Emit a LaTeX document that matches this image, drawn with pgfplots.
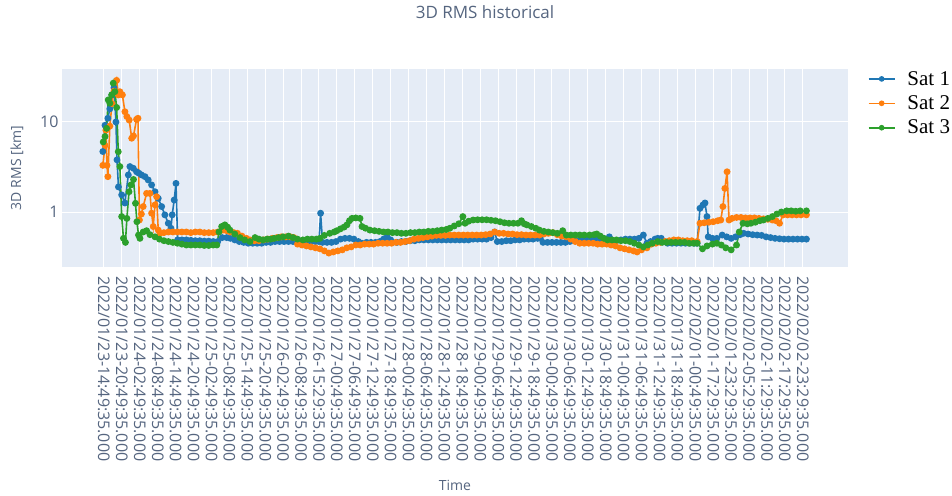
\documentclass[border=0pt]{standalone}
\usepackage{pgfplots}
\pgfplotsset{compat=1.18}
\usepackage{fontspec}
\setmainfont{Open Sans}
\newfontfamily\legendfont{Liberation Serif}

\definecolor{satA}{HTML}{1F77B4}
\definecolor{satB}{HTML}{FF7F0E}
\definecolor{satC}{HTML}{2CA02C}
\definecolor{plotbg}{HTML}{E5ECF6}
\definecolor{txt}{HTML}{2A3F5F}
\colorlet{ticktxt}{txt!80!white}

\begin{document}
\begin{tikzpicture}[x=1pt,y=1pt]
\useasboundingbox (0,0) rectangle (952,-495);

\node[font=\fontsize{17}{20}\selectfont, text=ticktxt] at (485,-12) {3D RMS historical};
\node[font=\fontsize{14}{16}\selectfont, text=ticktxt, rotate=90] at (17,-168) {3D RMS [km]};
\node[font=\fontsize{14}{16}\selectfont, text=ticktxt] at (455,-485) {Time};

\begin{axis}[
  at={(62pt,-267pt)}, anchor=south west,
  width=786pt, height=198pt, scale only axis,
  xmin=-2.34, xmax=41.52,
  ymode=log, ymin=0.245, ymax=38.8,
  axis background/.style={fill=plotbg},
  axis line style={draw=none},
  tick style={draw=none},
  grid=major,
  major grid style={white, line width=1pt},
  xtick={0,...,39},
  xticklabels={
    2022/01/23-14:49:35.000, 2022/01/23-20:49:35.000, 2022/01/24-02:49:35.000,
    2022/01/24-08:49:35.000, 2022/01/24-14:49:35.000, 2022/01/24-20:49:35.000,
    2022/01/25-02:49:35.000, 2022/01/25-08:49:35.000, 2022/01/25-14:49:35.000,
    2022/01/25-20:49:35.000, 2022/01/26-02:49:35.000, 2022/01/26-08:49:35.000,
    2022/01/26-15:29:35.000, 2022/01/27-00:49:35.000, 2022/01/27-06:49:35.000,
    2022/01/27-12:49:35.000, 2022/01/27-18:49:35.000, 2022/01/28-00:49:35.000,
    2022/01/28-06:49:35.000, 2022/01/28-12:49:35.000, 2022/01/28-18:49:35.000,
    2022/01/29-00:49:35.000, 2022/01/29-06:49:35.000, 2022/01/29-12:49:35.000,
    2022/01/29-18:49:35.000, 2022/01/30-00:49:35.000, 2022/01/30-06:49:35.000,
    2022/01/30-12:49:35.000, 2022/01/30-18:49:35.000, 2022/01/31-00:49:35.000,
    2022/01/31-06:49:35.000, 2022/01/31-12:49:35.000, 2022/01/31-18:49:35.000,
    2022/02/01-00:49:35.000, 2022/02/01-17:29:35.000, 2022/02/01-23:29:35.000,
    2022/02/02-05:29:35.000, 2022/02/02-11:29:35.000, 2022/02/02-17:29:35.000,
    2022/02/02-23:29:35.000},
  xticklabel shift=7pt,
  xticklabel style={rotate=-90, anchor=west, text=ticktxt,
    font=\fontsize{16}{18}\selectfont, inner sep=2pt},
  ytick={1,10}, yticklabels={1,10},
  minor ytick={},
  yticklabel style={text=ticktxt, font=\fontsize{16}{18}\selectfont},
  legend cell align=left,
  legend style={at={(1.025,1.0)}, anchor=north west, draw=none, fill=none,
    font=\legendfont\fontsize{21}{24}\selectfont, inner sep=0pt,
    row sep=5pt},
  legend image code/.code={%
    \draw[mark repeat=2, mark phase=2, mark size=2pt, line width=1.6pt, #1]
      plot coordinates {(0pt,0pt) (13pt,0pt) (26pt,0pt)};
    \path (36pt,0pt);},
  every axis plot/.append style={line width=1.6pt, mark=*, mark size=2.6pt},
]

% Sat 1
\addplot[color=satA] coordinates {
(-0.06,4.7) (0.06,9.2) (0.22,11) (0.33,14) (0.45,20) (0.56,24) (0.67,10) (0.73,3.8)
(0.81,1.9) (0.99,1.55) (1.17,1.26) (1.36,2.58) (1.45,3.2) (1.64,3.06) (1.82,2.8)
(1.95,2.7) (2.10,2.58) (2.29,2.47) (2.47,2.27) (2.66,2.0) (2.85,1.68) (3.03,1.42)
(3.22,1.15) (3.40,0.93) (3.59,0.75) (3.74,0.66) (3.81,0.93) (3.92,1.36) (4.02,2.08)
(4.11,0.49) (4.35,0.49) (4.6,0.49) (4.85,0.485) (5.1,0.48) (5.35,0.48) (5.6,0.475)
(5.85,0.475) (6.1,0.47) (6.35,0.47) (6.6,0.52) (6.85,0.52) (7.05,0.51) (7.3,0.49)
(7.55,0.47) (7.8,0.46) (8.05,0.45) (8.3,0.45) (8.55,0.45) (8.8,0.45) (9.05,0.46)
(9.3,0.46) (9.55,0.47) (9.8,0.47) (10.05,0.47) (10.3,0.47) (10.55,0.47) (10.8,0.47)
(11.05,0.47) (11.3,0.47) (11.55,0.47) (11.8,0.47) (12.0,0.47) (12.09,0.97) (12.2,0.46)
(12.45,0.46) (12.7,0.46) (12.95,0.47) (13.2,0.5) (13.45,0.51) (13.7,0.51) (13.95,0.5)
(14.2,0.47) (14.4,0.45) (14.65,0.46) (14.9,0.46) (15.15,0.46) (15.4,0.47) (15.6,0.5)
(15.8,0.53) (16.0,0.49) (16.1,0.46) (16.35,0.46) (16.6,0.47) (16.85,0.47) (17.1,0.48)
(17.35,0.48) (17.6,0.49) (17.85,0.49) (18.1,0.49) (18.35,0.49) (18.6,0.49) (18.85,0.49)
(19.1,0.49) (19.35,0.49) (19.6,0.49) (19.85,0.49) (20.1,0.49) (20.35,0.49) (20.6,0.5)
(20.85,0.5) (21.1,0.5) (21.35,0.5) (21.6,0.52) (21.8,0.6) (21.95,0.47) (22.2,0.47)
(22.45,0.48) (22.7,0.48) (22.95,0.49) (23.2,0.49) (23.45,0.5) (23.7,0.5) (23.95,0.5)
(24.2,0.51) (24.35,0.51) (24.5,0.46) (24.75,0.46) (25.0,0.46) (25.25,0.46) (25.5,0.46)
(25.75,0.46) (26.0,0.47) (26.25,0.48) (26.5,0.48) (26.75,0.49) (27.0,0.49) (27.25,0.49)
(27.5,0.5) (27.75,0.5) (28.0,0.5) (28.2,0.53) (28.35,0.47) (28.6,0.48) (28.85,0.49)
(29.1,0.5) (29.35,0.5) (29.6,0.5) (29.85,0.51) (30.1,0.555) (30.3,0.45) (30.5,0.47)
(30.75,0.5) (30.9,0.51) (31.1,0.51) (31.3,0.47) (31.45,0.45) (31.7,0.45) (31.95,0.45)
(32.2,0.45) (32.45,0.45) (32.7,0.45) (32.95,0.45) (33.1,0.45) (33.26,1.1) (33.43,1.2)
(33.54,1.26) (33.65,0.89) (33.72,0.53) (33.95,0.51) (34.2,0.51) (34.5,0.555) (34.75,0.53)
(35.0,0.51) (35.25,0.53) (35.5,0.56) (35.7,0.58) (35.95,0.57) (36.2,0.56) (36.45,0.555)
(36.7,0.55) (36.95,0.53) (37.2,0.52) (37.45,0.51) (37.7,0.505) (37.95,0.5) (38.2,0.5)
(38.45,0.5) (38.7,0.5) (38.95,0.5) (39.2,0.5)
};
\addlegendentry{Sat 1}

% Sat 2
\addplot[color=satB] coordinates {
(-0.06,3.3) (0.06,5.5) (0.11,8.1) (0.17,3.3) (0.22,2.47) (0.33,9) (0.45,16) (0.56,22)
(0.71,29) (0.80,20) (0.89,21.7) (1.03,20) (1.17,13) (1.28,11.5) (1.41,10.5) (1.55,6.6)
(1.65,7) (1.82,10.7) (1.90,11) (1.98,0.815) (2.09,0.95) (2.19,1.15) (2.38,1.61)
(2.57,1.61) (2.66,0.97) (2.75,0.69) (2.85,1.2) (2.94,1.48) (3.03,0.63) (3.13,0.58)
(3.35,0.59) (3.6,0.6) (3.85,0.6) (4.1,0.6) (4.35,0.6) (4.6,0.6) (4.85,0.59) (5.1,0.6)
(5.35,0.6) (5.6,0.59) (5.85,0.59) (6.1,0.59) (6.35,0.6) (6.64,0.63) (6.85,0.62)
(7.05,0.6) (7.25,0.59) (7.45,0.58) (7.7,0.54) (7.95,0.51) (8.15,0.49) (8.4,0.48)
(8.65,0.48) (8.9,0.49) (9.15,0.5) (9.4,0.51) (9.65,0.52) (9.9,0.53) (10.15,0.53)
(10.4,0.53) (10.6,0.52) (10.8,0.44) (11.05,0.43) (11.3,0.42) (11.55,0.41) (11.8,0.4)
(12.05,0.39) (12.3,0.37) (12.55,0.35) (12.8,0.36) (13.05,0.37) (13.3,0.38) (13.55,0.4)
(13.8,0.41) (14.05,0.43) (14.3,0.43) (14.55,0.44) (14.8,0.44) (15.05,0.44) (15.3,0.45)
(15.55,0.45) (15.8,0.45) (16.05,0.45) (16.3,0.46) (16.55,0.46) (16.8,0.47) (17.05,0.48)
(17.3,0.5) (17.55,0.51) (17.8,0.52) (18.05,0.53) (18.3,0.54) (18.55,0.55) (18.8,0.55)
(19.05,0.55) (19.3,0.555) (19.55,0.555) (19.8,0.555) (20.05,0.555) (20.3,0.555)
(20.55,0.555) (20.8,0.555) (21.05,0.555) (21.3,0.56) (21.55,0.57) (21.8,0.6) (22.05,0.58)
(22.3,0.58) (22.55,0.57) (22.8,0.57) (23.05,0.56) (23.3,0.56) (23.55,0.555) (23.8,0.555)
(24.05,0.555) (24.3,0.555) (24.55,0.57) (24.8,0.58) (25.05,0.59) (25.3,0.56) (25.55,0.54)
(25.8,0.53) (26.05,0.5) (26.3,0.47) (26.55,0.45) (26.8,0.45) (27.05,0.45) (27.3,0.45)
(27.55,0.44) (27.8,0.44) (28.05,0.44) (28.3,0.43) (28.55,0.42) (28.8,0.4) (29.05,0.39)
(29.3,0.38) (29.55,0.37) (29.75,0.36) (30.0,0.38) (30.3,0.4) (30.55,0.44) (30.8,0.45)
(31.05,0.46) (31.3,0.47) (31.55,0.48) (31.8,0.49) (32.05,0.49) (32.3,0.48) (32.55,0.48)
(32.8,0.48) (33.1,0.47) (33.26,0.75) (33.5,0.76) (33.75,0.77) (34.0,0.78) (34.25,0.8)
(34.42,0.815) (34.54,1.15) (34.65,1.83) (34.77,2.8) (34.88,0.815) (35.05,0.85)
(35.3,0.87) (35.55,0.87) (35.8,0.86) (36.05,0.86) (36.3,0.86) (36.55,0.85) (36.8,0.84)
(37.05,0.83) (37.3,0.815) (37.5,0.8) (37.7,0.75) (37.9,0.93) (38.15,0.93) (38.4,0.93)
(38.65,0.93) (38.9,0.93) (39.2,0.93)
};
\addlegendentry{Sat 2}

% Sat 3
\addplot[color=satC] coordinates {
(-0.04,6.0) (0.06,6.9) (0.15,8.5) (0.24,17.6) (0.33,16.2) (0.43,20) (0.52,27) (0.61,21.7)
(0.71,14.5) (0.80,4.68) (0.89,3.2) (0.99,0.89) (1.09,0.51) (1.20,0.46) (1.28,0.85)
(1.40,1.68) (1.51,2.0) (1.65,2.3) (1.76,1.25) (1.84,0.78) (1.93,0.555) (2.01,0.51)
(2.19,0.6) (2.38,0.62) (2.57,0.56) (2.85,0.53) (3.1,0.5) (3.35,0.48) (3.6,0.47)
(3.85,0.46) (4.1,0.45) (4.35,0.44) (4.6,0.43) (4.85,0.43) (5.1,0.43) (5.35,0.43)
(5.6,0.425) (5.85,0.425) (6.1,0.43) (6.3,0.43) (6.42,0.6) (6.57,0.69) (6.75,0.72)
(6.9,0.68) (7.03,0.63) (7.3,0.57) (7.59,0.52) (7.85,0.49) (8.15,0.47) (8.43,0.52)
(8.65,0.5) (8.87,0.49) (9.1,0.5) (9.3,0.5) (9.5,0.51) (9.75,0.52) (10.0,0.53) (10.3,0.54)
(10.55,0.52) (10.8,0.5) (11.1,0.49) (11.35,0.5) (11.6,0.5) (11.85,0.5) (12.05,0.51)
(12.3,0.55) (12.6,0.58) (12.85,0.6) (13.0,0.62) (13.2,0.65) (13.4,0.68) (13.56,0.72)
(13.7,0.8) (13.84,0.85) (14.05,0.86) (14.29,0.85) (14.4,0.69) (14.6,0.66) (14.84,0.63)
(15.1,0.62) (15.35,0.61) (15.6,0.6) (15.85,0.6) (16.1,0.59) (16.35,0.59) (16.6,0.58)
(16.85,0.58) (17.1,0.59) (17.35,0.59) (17.6,0.6) (17.85,0.6) (18.1,0.61) (18.35,0.61)
(18.6,0.62) (18.85,0.63) (19.1,0.64) (19.3,0.66) (19.55,0.7) (19.8,0.74) (20.03,0.89)
(20.15,0.75) (20.35,0.79) (20.6,0.815) (20.85,0.82) (21.1,0.82) (21.35,0.82) (21.6,0.81)
(21.85,0.8) (22.1,0.78) (22.35,0.76) (22.6,0.75) (22.85,0.75) (23.1,0.75) (23.3,0.8)
(23.45,0.74) (23.6,0.72) (23.85,0.69) (24.1,0.66) (24.3,0.63) (24.55,0.61) (24.8,0.6)
(25.05,0.59) (25.3,0.58) (25.6,0.62) (25.8,0.555) (26.05,0.555) (26.3,0.555) (26.55,0.555)
(26.8,0.555) (27.1,0.555) (27.35,0.56) (27.5,0.57) (27.7,0.54) (27.9,0.51) (28.1,0.49)
(28.35,0.49) (28.6,0.49) (28.85,0.48) (29.1,0.48) (29.35,0.47) (29.6,0.45) (29.85,0.43)
(30.1,0.41) (30.35,0.43) (30.6,0.45) (30.9,0.47) (31.15,0.46) (31.4,0.46) (31.65,0.46)
(31.9,0.46) (32.15,0.46) (32.4,0.46) (32.65,0.45) (32.9,0.45) (33.1,0.45) (33.4,0.39)
(33.65,0.42) (33.95,0.44) (34.2,0.45) (34.45,0.43) (34.7,0.4) (35.0,0.38) (35.3,0.43)
(35.45,0.6) (35.66,0.75) (35.9,0.74) (36.1,0.75) (36.35,0.77) (36.6,0.8) (36.8,0.815)
(37.05,0.85) (37.3,0.89) (37.55,0.95) (37.8,1.0) (38.1,1.03) (38.35,1.03) (38.6,1.02)
(38.85,1.03) (39.2,1.03)
};
\addlegendentry{Sat 3}

\end{axis}
\end{tikzpicture}
\end{document}
